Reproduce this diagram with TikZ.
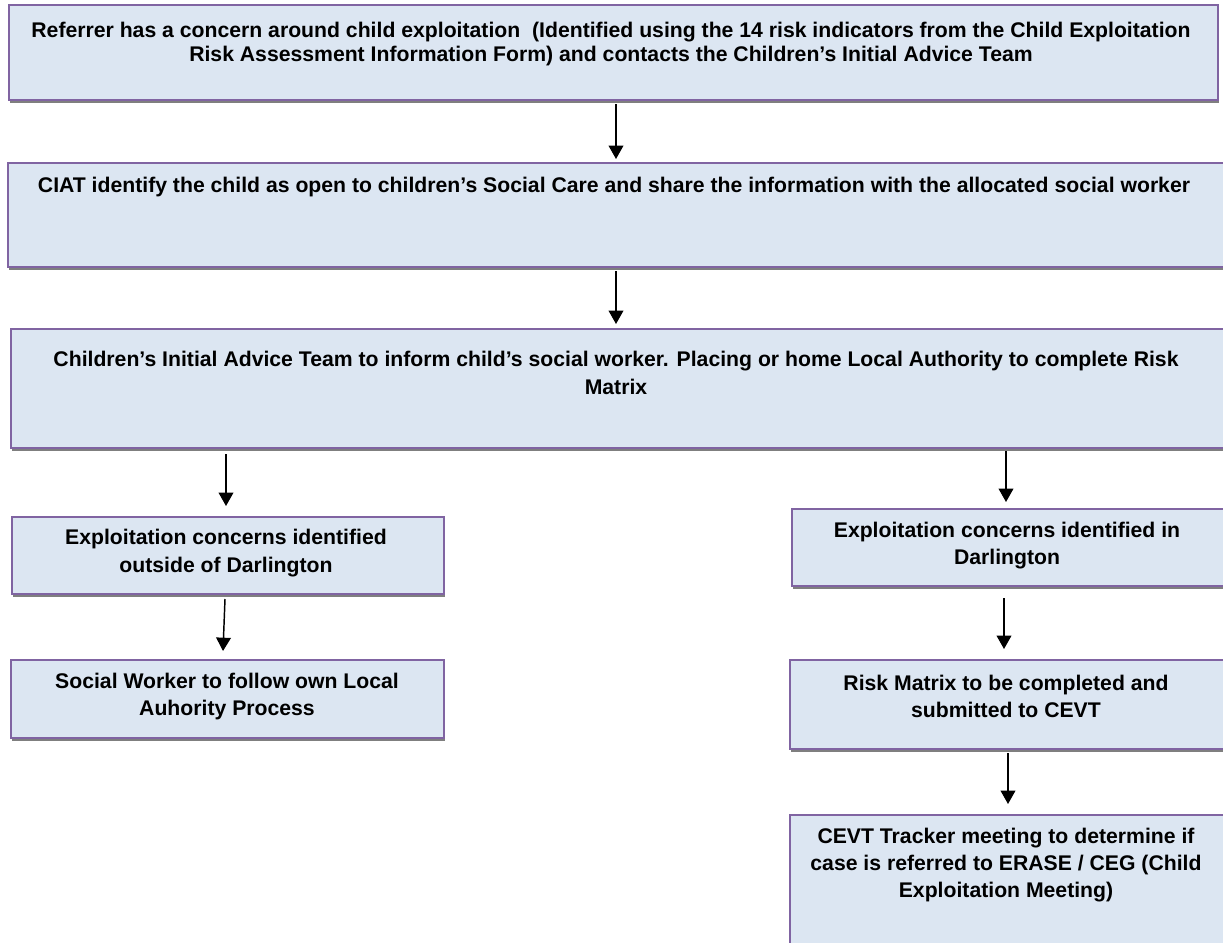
\documentclass[tikz,border=0pt]{standalone}
\usepackage{fontspec}
\setmainfont{Liberation Sans}
\usetikzlibrary{arrows.meta,calc,fit,shadows}
\definecolor{boxfill}{HTML}{DCE6F2}
\definecolor{boxline}{HTML}{8064A2}
\begin{document}
\begin{tikzpicture}[x=0.75pt,y=-0.75pt,
  box/.style={draw=boxline,line width=1.5pt,fill=boxfill,inner sep=0pt,
    drop shadow={shadow xshift=1pt,shadow yshift=-2.5pt,fill=black,opacity=0.5}},
  txt/.style={align=center,inner sep=0pt,font=\bfseries\fontsize{15.9}{20.5}\selectfont},
  arr/.style={line width=1.1pt,-{Triangle[width=11pt,length=10pt]}}]
\useasboundingbox (0,0) rectangle (1223,942);
\clip (0,0) rectangle (1223,942);
% boxes
\node[box,fit={(9,5) (1218,100)}] (b1) {};
\node[box,fit={(8,163) (1228,267)}] (b2) {};
\node[box,fit={(11,329) (1228,448)}] (b3) {};
\node[box,fit={(12,517) (444,594)}] (l1) {};
\node[box,fit={(11,660) (444,738)}] (l2) {};
\node[box,fit={(792,509) (1228,586)}] (r1) {};
\node[box,fit={(790,660) (1228,749)}] (r2) {};
\node[box,fit={(790,815) (1228,960)}] (r3) {};
% texts
\node[txt,font=\bfseries\fontsize{15.9}{18}\selectfont] (t1) at ($(b1.north west)+(603,40)$) {Referrer has a concern around child exploitation\ \ (Identified using the 14 risk indicators from the Child Exploitation\\Risk Assessment Information Form) and contacts the Children’s Initial Advice Team};
\node[txt] (t2) at ($(b2.north west)+(607,25)$) {CIAT identify the child as open to children’s Social Care and share the information with the allocated social worker};
\node[txt] (t3) at ($(b3.north west)+(606,45)$) {Children’s Initial Advice Team to inform child’s social worker. Placing or home Local Authority to complete Risk\\Matrix};
\node[txt] (tl1) at ($(l1.north west)+(215,37)$) {Exploitation concerns identified\\outside of Darlington};
\node[txt] (tl2) at ($(l2.north west)+(217,37.5)$) {Social Worker to follow own Local\\Auhority Process};
\node[txt] (tr1) at ($(r1.north west)+(216,37.5)$) {Exploitation concerns identified in\\Darlington};
\node[txt] (tr2) at ($(r2.north west)+(217,37.5)$) {Risk Matrix to be completed and\\submitted to CEVT};
\node[txt] (tr3) at ($(r3.north west)+(217,51)$) {CEVT Tracker meeting to determine if\\case is referred to ERASE / CEG (Child\\Exploitation Meeting)};
% arrows
\draw[arr] ($(b1.south west)+(608,3)$) -- ($(b2.north west)+(609,-3)$);
\draw[arr] ($(b2.south west)+(609,3)$) -- ($(b3.north west)+(606,-4)$);
\draw[arr] ($(b3.south west)+(216,5)$) -- ($(l1.north west)+(215,-10)$);
\draw[arr] ($(l1.south west)+(214,4)$) -- ($(l2.north west)+(213,-8)$);
\draw[arr] ($(b3.south west)+(996,2)$) -- ($(r1.north west)+(215,-6)$);
\draw[arr] ($(r1.south west)+(213,11)$) -- ($(r2.north west)+(215,-10)$);
\draw[arr] ($(r2.south west)+(219,3)$) -- ($(r3.north west)+(219,-10)$);
\end{tikzpicture}
\end{document}
